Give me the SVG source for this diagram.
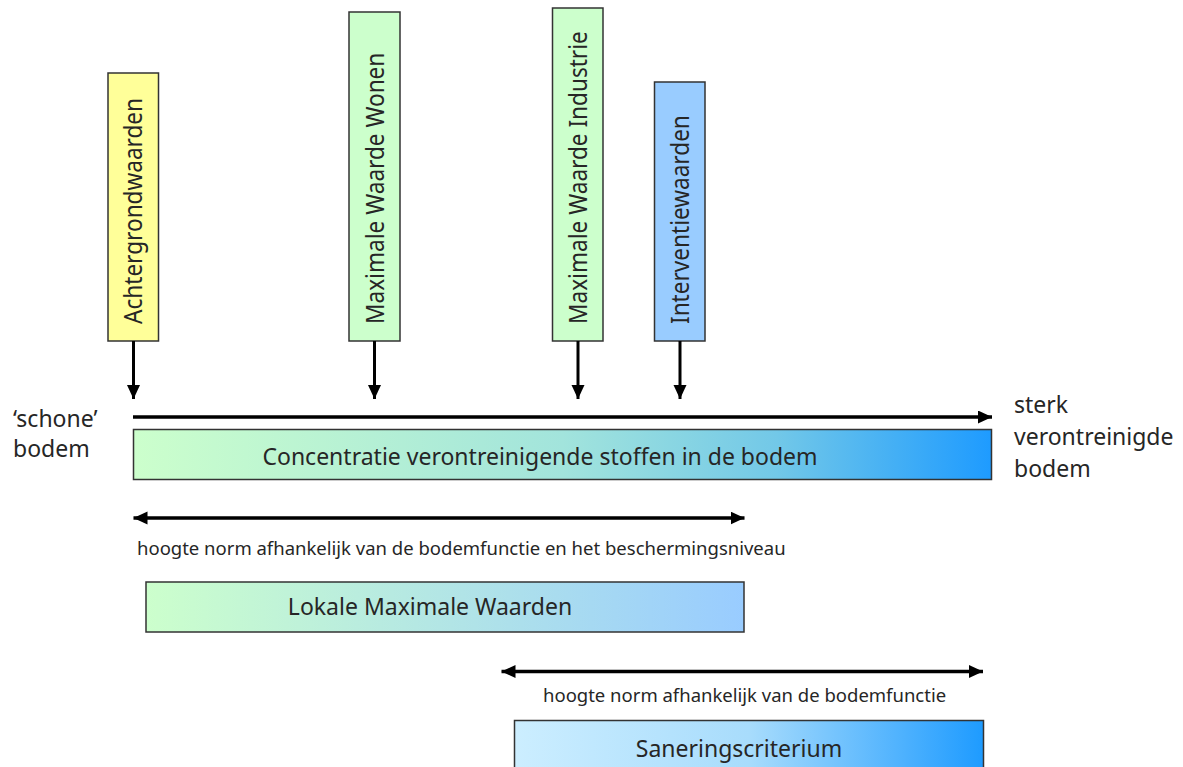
<svg xmlns="http://www.w3.org/2000/svg" width="1183" height="767" viewBox="0 0 1183 767">
  <style>
    text { font-family: "Noto Sans", "Open Sans", "DejaVu Sans", sans-serif; fill: #262626; }
    .big { font-size: 23px; }
    .vert { font-size: 22.6px; }
    .small { font-size: 18.5px; }
    .box { stroke: #333333; stroke-width: 1.5; }
    .conn { stroke: #000000; stroke-width: 3.5; fill: none; }
    .vconn { stroke: #000000; stroke-width: 3; fill: none; }
  </style>
  <defs>
    <marker id="ah" markerUnits="userSpaceOnUse" markerWidth="15" markerHeight="14" refX="14" refY="6.5" orient="auto-start-reverse" viewBox="0 0 15 14">
      <path d="M0,0 L14,6.5 L0,13 z" fill="#000000"/>
    </marker>
    <linearGradient id="gMain" x1="0" y1="0" x2="1" y2="0">
      <stop offset="0" stop-color="#ccffcc"/>
      <stop offset="0.5" stop-color="#a2e4dc"/>
      <stop offset="0.75" stop-color="#72c8e8"/>
      <stop offset="1" stop-color="#1e9bff"/>
    </linearGradient>
    <linearGradient id="gLok" x1="0" y1="0" x2="1" y2="0">
      <stop offset="0" stop-color="#ccffcc"/>
      <stop offset="1" stop-color="#99ccff"/>
    </linearGradient>
    <linearGradient id="gSan" x1="0" y1="0" x2="1" y2="0">
      <stop offset="0" stop-color="#cceeff"/>
      <stop offset="0.5" stop-color="#a8dcfc"/>
      <stop offset="1" stop-color="#1e9bff"/>
    </linearGradient>
  </defs>

  <g id="achtergrondwaarden">
    <rect class="box" x="108" y="73" width="50.5" height="268" fill="#ffff99"/>
    <text class="vert" transform="translate(142,324) rotate(-90) scale(1,1.14)">Achtergrondwaarden</text>
  </g>
  <g id="maximale-waarde-wonen">
    <rect class="box" x="349" y="12" width="51" height="329" fill="#ccffcc"/>
    <text class="vert" transform="translate(383.5,324) rotate(-90) scale(1,1.14)">Maximale Waarde Wonen</text>
  </g>
  <g id="maximale-waarde-industrie">
    <rect class="box" x="552.5" y="8" width="50.5" height="333" fill="#ccffcc"/>
    <text class="vert" transform="translate(587,324) rotate(-90) scale(1,1.14)">Maximale Waarde Industrie</text>
  </g>
  <g id="interventiewaarden">
    <rect class="box" x="654.5" y="82" width="50.5" height="259" fill="#99ccff"/>
    <text class="vert" transform="translate(689,324) rotate(-90) scale(1,1.14)">Interventiewaarden</text>
  </g>

  <g id="left-label">
    <text class="big" x="13" y="426.5">‘schone’</text>
    <text class="big" x="13" y="456.5">bodem</text>
  </g>
  <g id="right-label">
    <text class="big" x="1014" y="413">sterk</text>
    <text class="big" x="1014" y="445">verontreinigde</text>
    <text class="big" x="1014" y="476.5">bodem</text>
  </g>

  <g id="concentratie">
    <rect class="box" x="133.5" y="429.5" width="858" height="50" fill="url(#gMain)"/>
    <text class="big" x="540" y="465" text-anchor="middle">Concentratie verontreinigende stoffen in de bodem</text>
  </g>

  <g id="label-norm-1">
    <text class="small" x="137" y="555">hoogte norm afhankelijk van de bodemfunctie en het beschermingsniveau</text>
  </g>

  <g id="lokale-maximale-waarden">
    <rect class="box" x="146" y="582" width="598" height="50" fill="url(#gLok)"/>
    <text class="big" x="430" y="614.5" text-anchor="middle">Lokale Maximale Waarden</text>
  </g>

  <g id="label-norm-2">
    <text class="small" x="543" y="702">hoogte norm afhankelijk van de bodemfunctie</text>
  </g>

  <g id="saneringscriterium">
    <rect class="box" x="514.5" y="720.5" width="469" height="60" fill="url(#gSan)"/>
    <text class="big" x="739" y="757" text-anchor="middle">Saneringscriterium</text>
  </g>

  <g id="connectors">
    <line class="vconn" x1="133.5" y1="341" x2="133.5" y2="399" marker-end="url(#ah)"/>
    <line class="vconn" x1="374.5" y1="341" x2="374.5" y2="399" marker-end="url(#ah)"/>
    <line class="vconn" x1="578" y1="341" x2="578" y2="399" marker-end="url(#ah)"/>
    <line class="vconn" x1="680" y1="341" x2="680" y2="399" marker-end="url(#ah)"/>
    <line class="conn" x1="133" y1="417" x2="992" y2="417" marker-end="url(#ah)"/>
    <line class="conn" x1="133.5" y1="518" x2="744.5" y2="518" marker-start="url(#ah)" marker-end="url(#ah)"/>
    <line class="conn" x1="501.5" y1="671.5" x2="983" y2="671.5" marker-start="url(#ah)" marker-end="url(#ah)"/>
  </g>
</svg>
